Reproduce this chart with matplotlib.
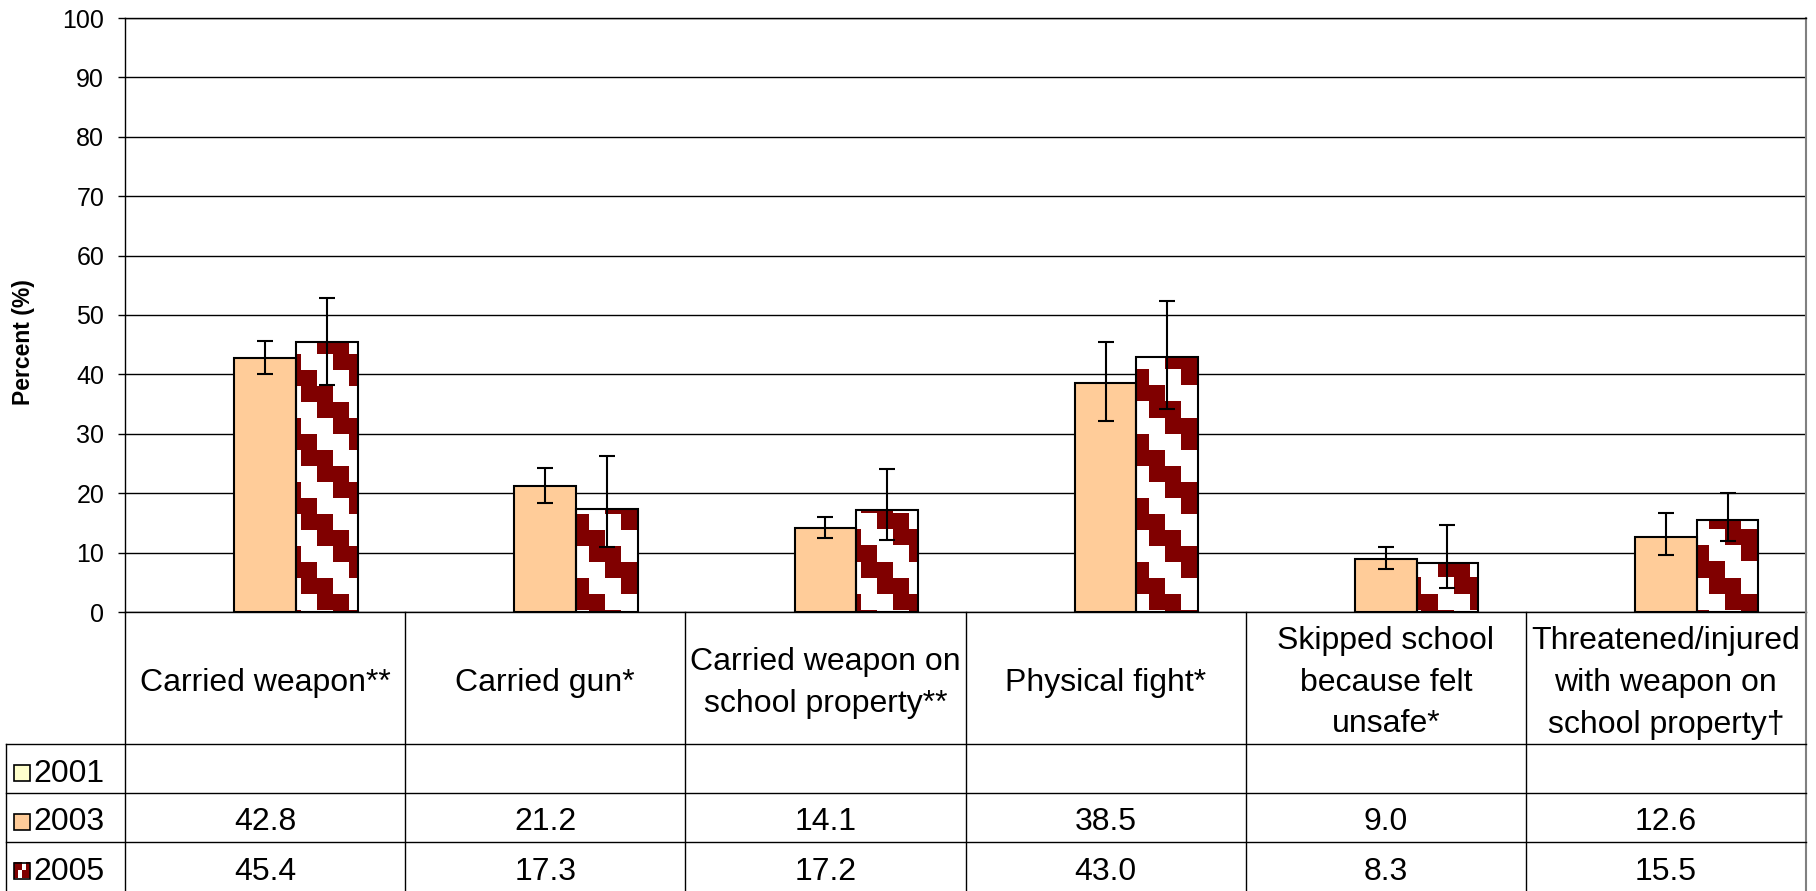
import numpy as np
import matplotlib
matplotlib.use('Agg')
import matplotlib.pyplot as plt
from matplotlib.colors import ListedColormap
from matplotlib.patches import Rectangle

plt.rcParams['font.family'] = ['Liberation Sans', 'DejaVu Sans']

categories = ['Carried weapon**', 'Carried gun*', 'Carried weapon on\nschool property**',
              'Physical fight*', 'Skipped school\nbecause felt\nunsafe*',
              'Threatened/injured\nwith weapon on\nschool property\u2020']
years = ['2001', '2003', '2005']
vals_2001 = [None, None, None, None, None, None]
vals_2003 = [42.8, 21.2, 14.1, 38.5, 9.0, 12.6]
vals_2005 = [45.4, 17.3, 17.2, 43.0, 8.3, 15.5]
lo_2003 = [40.1, 18.3, 12.5, 32.1, 7.2, 9.6]
hi_2003 = [45.6, 24.2, 16.0, 45.4, 11.0, 16.6]
lo_2005 = [38.2, 11.0, 12.1, 34.1, 4.1, 11.9]
hi_2005 = [52.8, 26.2, 24.1, 52.4, 14.7, 20.0]

W, H = 1816, 891
left_px, right_px, top_px, base_px = 125, 1806, 18, 612
leg_px = 6
cw = (right_px - left_px) / len(categories)

col_2001 = '#FFFFCC'
col_2003 = '#FFCC99'
col_2005 = '#800000'
pat_cmap = ListedColormap(['white', col_2005])

fig = plt.figure(figsize=(W / 100, H / 100), dpi=100)
ax = fig.add_axes([left_px / W, (H - base_px) / H, (right_px - left_px) / W, (base_px - top_px) / H])

x = np.arange(len(categories)) + 0.5
bw = 0.22

# staircase pattern (16px cells) for the 2005 series
cx = 16 / cw
cy = 16 / ((base_px - top_px) / 100)
ncol = int(6 / cx) + 2
nrow = int(100 / cy) + 2
rr, cc = np.mgrid[0:nrow, 0:ncol]
pattern = (((cc - rr) % 4) < 2).astype(float)

ax.bar(x, vals_2003, bw, color=col_2003, edgecolor='black', linewidth=1.5, zorder=3)
bars05 = ax.bar(x + bw, vals_2005, bw, facecolor='none', edgecolor='black', linewidth=1.5, zorder=3)
for b in bars05:
    im = ax.imshow(pattern, cmap=pat_cmap, vmin=0, vmax=1, interpolation='nearest',
                   extent=(0, ncol * cx, 100 - nrow * cy, 100), origin='upper',
                   aspect='auto', zorder=2)
    im.set_clip_path(b)

v3 = np.array(vals_2003)
v5 = np.array(vals_2005)
ax.errorbar(x, v3, yerr=[v3 - np.array(lo_2003), np.array(hi_2003) - v3], fmt='none',
            ecolor='black', elinewidth=1.5, capsize=6, capthick=1.5, zorder=4)
ax.errorbar(x + bw, v5, yerr=[v5 - np.array(lo_2005), np.array(hi_2005) - v5], fmt='none',
            ecolor='black', elinewidth=1.5, capsize=6, capthick=1.5, zorder=4)

ax.set_xlim(0, len(categories))
ax.set_ylim(0, 100)
ax.set_yticks(range(0, 101, 10))
ax.yaxis.grid(True, color='black', linewidth=1)
ax.set_axisbelow(True)
ax.set_xticks([])
ax.tick_params(axis='y', direction='out', length=5, width=1, pad=10, labelsize=18)
ax.set_ylabel('Percent (%)', fontsize=16.5, fontweight='bold')
ax.yaxis.set_label_coords((35 - left_px) / (right_px - left_px), 0.455)
for s in ['left', 'bottom', 'top']:
    ax.spines[s].set_color('black')
    ax.spines[s].set_linewidth(1)
ax.spines['right'].set_color('#808080')
ax.spines['right'].set_linewidth(1.5)

# data table under the chart
tax = fig.add_axes([leg_px / W, 0, (right_px - leg_px) / W, (H - base_px) / H])
leg_w = (left_px - leg_px) / cw
tab_h = H - base_px
tax.axis('off')
head_h = 132
row_h = (tab_h - head_h) / 3

for i in range(len(categories) + 1):
    last = i == len(categories)
    tax.plot([i, i], [0, tab_h], color='#808080' if last else 'black',
             linewidth=1.5 if last else 1, clip_on=False)
tax.plot([-leg_w, -leg_w], [head_h, tab_h], color='black', linewidth=1, clip_on=False)
for j in range(3):
    yy = head_h + j * row_h
    tax.plot([-leg_w, len(categories)], [yy, yy], color='black', linewidth=1, clip_on=False)

for i, cat in enumerate(categories):
    tax.text(i + 0.5, head_h / 2 + 5, cat, ha='center', va='center', fontsize=23, linespacing=1.5)

rows = [vals_2001, vals_2003, vals_2005]
sx0 = -leg_w + 8 / cw
sw = 16 / cw
for j, (yr, row) in enumerate(zip(years, rows)):
    yc = head_h + (j + 0.5) * row_h + 5
    for i, v in enumerate(row):
        if v is not None:
            tax.text(i + 0.5, yc, f'{v:.1f}', ha='center', va='center', fontsize=23)
    if yr == '2005':
        sp = np.array([[1, 1, 0, 1], [1, 1, 0, 1], [1, 0, 1, 1], [1, 0, 1, 1]], dtype=float)
        tax.imshow(sp, cmap=pat_cmap, vmin=0, vmax=1, interpolation='nearest',
                   extent=(sx0, sx0 + sw, yc + 7, yc - 9), aspect='auto', zorder=2)
        tax.add_patch(Rectangle((sx0, yc - 9), sw, 16, facecolor='none', edgecolor='black',
                                linewidth=1.2, zorder=3))
    else:
        fc = col_2001 if yr == '2001' else col_2003
        tax.add_patch(Rectangle((sx0, yc - 9), sw, 16, facecolor=fc, edgecolor='black',
                                linewidth=1.2, zorder=3))
    tax.text(sx0 + sw + 3 / cw, yc, yr, ha='left', va='center', fontsize=23)
tax.set_xlim(-leg_w, len(categories))
tax.set_ylim(tab_h, 0)

fig.savefig('out.png', dpi=100)
